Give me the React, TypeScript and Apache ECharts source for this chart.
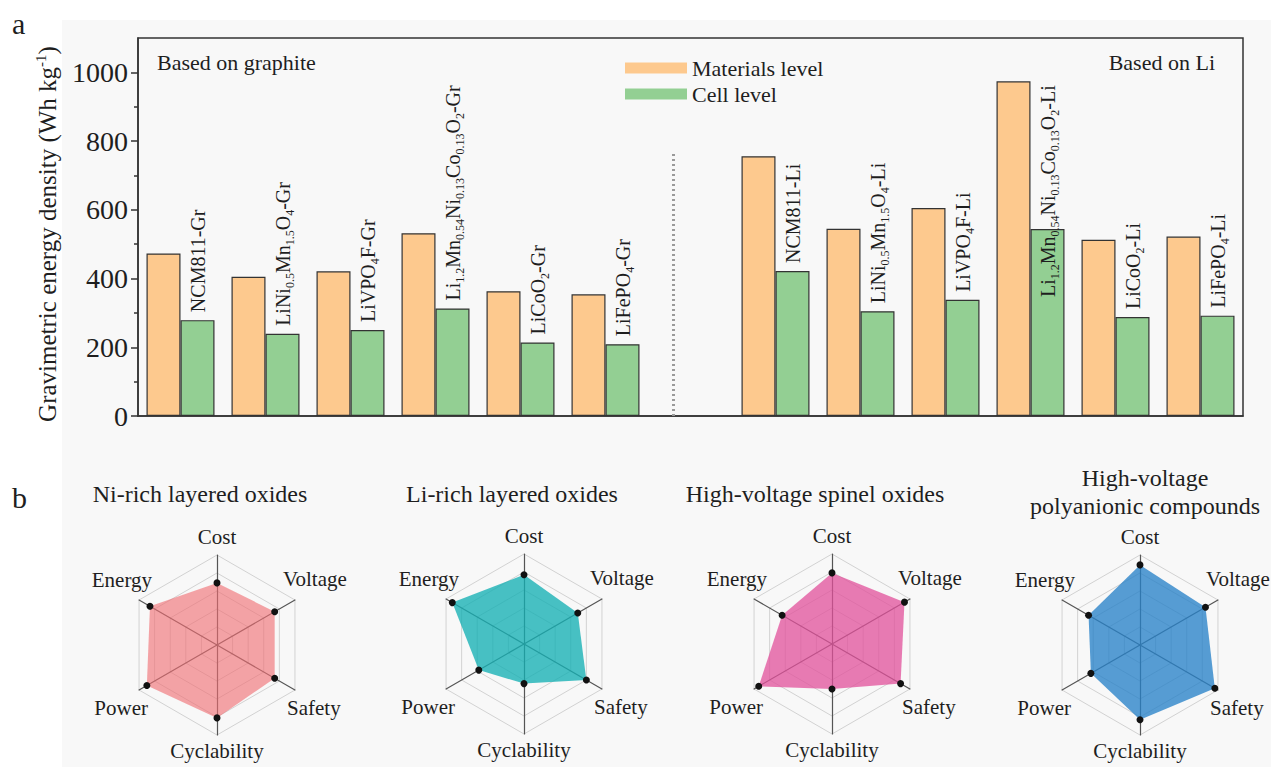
import { useEffect, useRef } from 'react';
import * as echarts from 'echarts';

const SERIF = '"Liberation Serif", "Times New Roman", serif';
const INK = '#1e1e1e';

// Gravimetric energy density of each cathode, Wh kg-1 (empty slot separates the two anode groups)
const categories = [
  'NCM811-Gr',
  'LiNi0.5Mn1.5O4-Gr',
  'LiVPO4F-Gr',
  'Li1.2Mn0.54Ni0.13Co0.13O2-Gr',
  'LiCoO2-Gr',
  'LiFePO4-Gr',
  '',
  'NCM811-Li',
  'LiNi0.5Mn1.5O4-Li',
  'LiVPO4F-Li',
  'Li1.2Mn0.54Ni0.13Co0.13O2-Li',
  'LiCoO2-Li',
  'LiFePO4-Li',
];
const materialsLevel = [473, 405, 421, 532, 363, 354, null, 756, 545, 605, 974, 513, 522];
const cellLevel = [279, 239, 250, 313, 214, 209, null, 422, 305, 338, 544, 288, 292];
const dividerTop = 770;
const yMajorTicks = [0, 200, 400, 600, 800, 1000];
const yMinorTicks = [100, 300, 500, 700, 900];

// Radar indicators, counter-clockwise from the top
const radarIndicators = ['Cost', 'Energy', 'Power', 'Cyclability', 'Safety', 'Voltage'];
const niRichScores = [69, 86, 90, 81, 74, 74];
const liRichScores = [77, 92, 58, 44, 80, 69];
const spinelScores = [79, 64, 94, 50, 88, 93];
const polyanionScores = [89, 66, 63, 83, 96, 84];
const radarTitles = [
  ['Ni-rich layered oxides'],
  ['Li-rich layered oxides'],
  ['High-voltage spinel oxides'],
  ['High-voltage', 'polyanionic compounds'],
];

// Layout of the four radar panels
const radarPanels = [
  { scores: niRichScores, center: [217, 645], titleX: 200, fill: 'rgba(240,110,115,0.62)' },
  { scores: liRichScores, center: [524, 644], titleX: 512, fill: 'rgba(20,175,180,0.78)' },
  { scores: spinelScores, center: [832, 644], titleX: 815, fill: 'rgba(225,80,155,0.75)' },
  { scores: polyanionScores, center: [1140, 645], titleX: 1145, fill: 'rgba(40,130,200,0.78)' },
];
const RADAR_RADIUS = 90;
const nameOffsets: Record<string, [number, number, string]> = {
  Cost: [0, -108, 'center'],
  Energy: [-65, -65, 'right'],
  Power: [-69, 63, 'right'],
  Cyclability: [0, 106, 'center'],
  Safety: [70, 63, 'left'],
  Voltage: [66, -66, 'left'],
};

// Chemical formula -> rich text with subscripted stoichiometry
function formula(name: string): string {
  if (name.startsWith('NCM')) return name;
  return name.replace(/([A-Za-z])(\d+(?:\.\d+)?)/g, '$1{s|$2}');
}

function text(x: number, y: number, str: string, size: number, align = 'left') {
  return {
    type: 'text',
    x,
    y,
    silent: true,
    style: {
      text: str,
      fontFamily: SERIF,
      fontSize: size,
      fill: INK,
      align,
      verticalAlign: 'middle',
    },
  };
}

function buildOption() {
  const tickStyle = { color: '#333', width: 1.5 };
  const insideLabelIndex = 10;

  const graphics: any[] = [
    text(12, 23, 'a', 30),
    text(12, 497, 'b', 30),
    text(157, 62, 'Based on graphite', 22),
    text(1215, 62, 'Based on Li', 22, 'right'),
  ];
  radarPanels.forEach((p, i) => {
    const lines = radarTitles[i];
    const ys = lines.length === 1 ? [494] : [478, 506];
    lines.forEach((ln, k) => graphics.push(text(p.titleX, ys[k], ln, 24, 'center')));
    radarIndicators.forEach((n) => {
      const [dx, dy, al] = nameOffsets[n];
      graphics.push(text(p.center[0] + dx, p.center[1] + dy, n, 21, al));
    });
  });

  return {
    animation: false,
    backgroundColor: 'transparent',
    textStyle: { fontFamily: SERIF },
    legend: {
      data: ['Materials level', 'Cell level'],
      orient: 'vertical',
      left: 620,
      top: 52,
      itemWidth: 62,
      itemHeight: 11,
      itemGap: 4,
      icon: 'rect',
      itemStyle: { borderWidth: 0 },
      textStyle: { fontFamily: SERIF, fontSize: 22, color: INK, lineHeight: 20 },
      selectedMode: false,
    },
    grid: {
      left: 138,
      top: 38,
      width: 1105,
      height: 378,
      show: true,
      borderColor: '#333',
      borderWidth: 1.5,
      backgroundColor: 'transparent',
    },
    xAxis: [
      {
        type: 'category',
        data: categories,
        axisLine: { lineStyle: tickStyle },
        axisTick: { alignWithLabel: true, interval: 0, length: 7, lineStyle: tickStyle },
        axisLabel: { show: false, interval: 0 },
        splitLine: { show: false },
      },
      {
        type: 'category',
        data: categories,
        position: 'bottom',
        axisLine: { show: false },
        axisTick: { interval: 0, length: 3, lineStyle: tickStyle },
        axisLabel: { show: false, interval: 0 },
        splitLine: { show: false },
      },
    ],
    yAxis: [
      {
        type: 'value',
        min: 0,
        max: 1100,
        position: 'left',
        axisLine: { show: true, lineStyle: tickStyle },
        axisTick: { show: true, customValues: yMajorTicks, length: 7, lineStyle: tickStyle },
        axisLabel: {
          customValues: yMajorTicks,
          formatter: (v: number) => String(v),
          fontFamily: SERIF,
          fontSize: 28,
          color: INK,
          margin: 10,
        },
        splitLine: { show: false },
        name: 'Gravimetric energy density (Wh kg{sup|-1})',
        nameLocation: 'middle',
        nameGap: 67,
        nameTextStyle: {
          fontFamily: SERIF,
          fontSize: 25,
          color: INK,
          lineHeight: 28,
          padding: [0, 0, 0, -14],
          rich: {
            sup: { fontFamily: SERIF, fontSize: 15, lineHeight: 14, verticalAlign: 'top', color: INK },
          },
        },
      },
      {
        type: 'value',
        min: 0,
        max: 1100,
        position: 'left',
        axisLine: { show: false },
        axisTick: { show: true, customValues: yMinorTicks, length: 4, lineStyle: tickStyle },
        axisLabel: { show: false },
        splitLine: { show: false },
      },
    ],
    radar: radarPanels.map((p) => ({
      center: p.center,
      radius: RADAR_RADIUS,
      startAngle: 90,
      splitNumber: 5,
      shape: 'polygon',
      indicator: radarIndicators.map((n) => ({ name: n, max: 100 })),
      axisName: { show: false },
      splitLine: { lineStyle: { color: '#d2d2d2', width: 1 } },
      splitArea: { show: false },
      axisLine: { lineStyle: { color: '#555', width: 1.2 } },
      axisTick: { show: false },
      axisLabel: { show: false },
    })),
    series: [
      {
        name: 'Materials level',
        type: 'bar',
        xAxisIndex: 0,
        yAxisIndex: 0,
        data: materialsLevel,
        barWidth: 34,
        barGap: '0%',
        itemStyle: { color: '#fdc98e', borderColor: '#333', borderWidth: 1.2 },
        markLine: {
          silent: true,
          symbol: ['none', 'none'],
          label: { show: false },
          lineStyle: { type: [2, 3], color: '#9a9a9a', width: 3 },
          emphasis: { disabled: true },
          data: [[{ coord: [6, 0] }, { coord: [6, dividerTop] }]],
        },
      },
      {
        name: 'Cell level',
        type: 'bar',
        xAxisIndex: 0,
        yAxisIndex: 0,
        data: cellLevel.map((v, i) =>
          i === insideLabelIndex ? { value: v, label: { position: 'insideTop', distance: 68 } } : v
        ),
        barWidth: 34,
        barGap: '0%',
        itemStyle: { color: '#93cf93', borderColor: '#333', borderWidth: 1.2 },
        label: {
          show: true,
          position: 'top',
          distance: 8,
          rotate: 90,
          align: 'left',
          verticalAlign: 'middle',
          fontFamily: SERIF,
          fontSize: 20,
          lineHeight: 26,
          color: INK,
          formatter: (p: any) => formula(p.name),
          rich: {
            s: { fontFamily: SERIF, fontSize: 12, lineHeight: 12, verticalAlign: 'bottom', color: INK },
          },
        },
      },
      ...radarPanels.map((p, i) => ({
        type: 'radar',
        radarIndex: i,
        symbol: 'circle',
        symbolSize: 7,
        itemStyle: { color: '#111' },
        lineStyle: { width: 0, opacity: 0 },
        areaStyle: { color: p.fill, opacity: 1 },
        data: [{ value: p.scores, name: radarTitles[i].join(' ') }],
      })),
    ],
    graphic: graphics,
  };
}

export default function App() {
  const ref = useRef<HTMLDivElement>(null);

  useEffect(() => {
    if (!ref.current) return;
    const chart = echarts.init(ref.current, undefined, { renderer: 'svg' });
    chart.setOption(buildOption() as any);
    return () => chart.dispose();
  }, []);

  return (
    <div style={{ position: 'fixed', left: 0, top: 0, width: 1271, height: 767, background: '#ffffff' }}>
      <div style={{ position: 'absolute', left: 62, top: 20, right: 0, bottom: 0, background: '#f8f8f8' }} />
      <div ref={ref} style={{ position: 'absolute', left: 0, top: 0, width: 1271, height: 767 }} />
    </div>
  );
}
